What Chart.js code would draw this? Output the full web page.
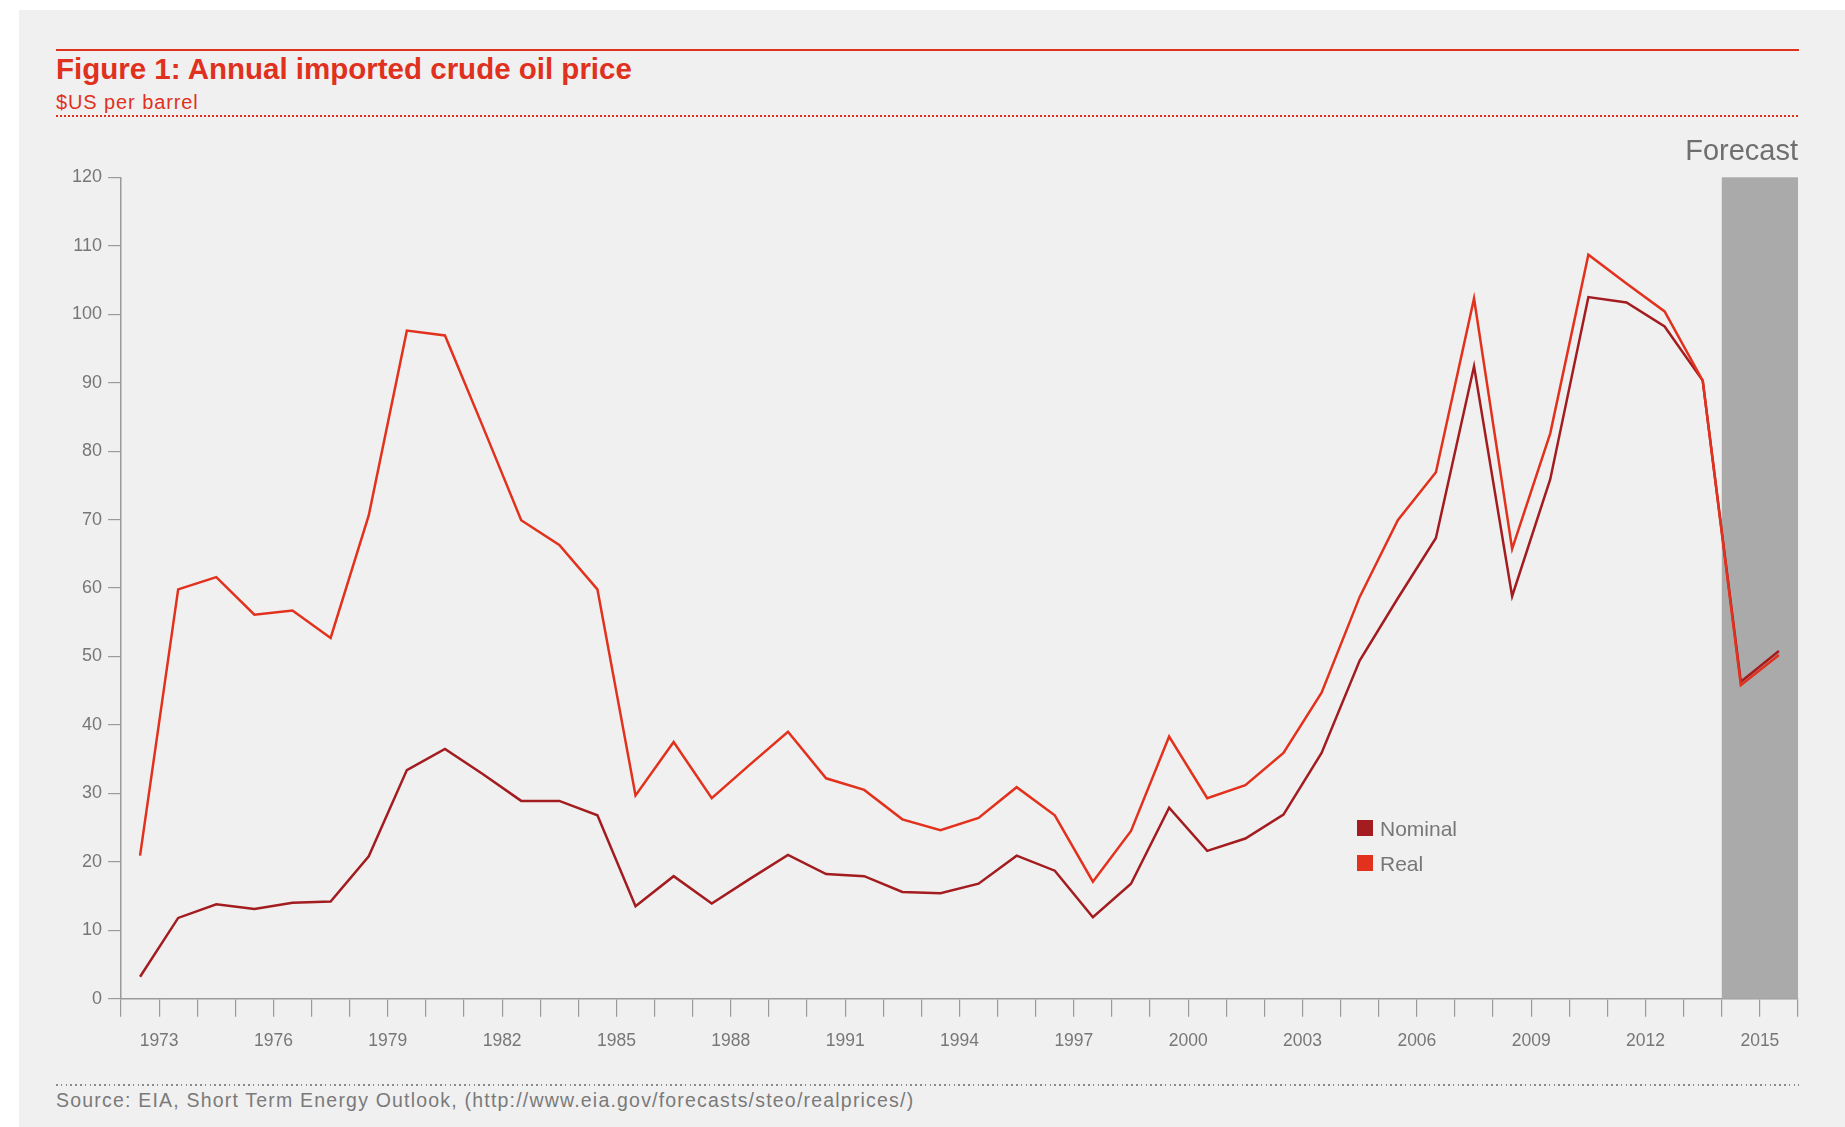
<!DOCTYPE html>
<html>
<head>
<meta charset="utf-8">
<title>Figure 1: Annual imported crude oil price</title>
<script src="https://cdn.jsdelivr.net/npm/chart.js@4.4.1/dist/chart.umd.min.js"></script>
<style>
  body { margin: 0; background: #fff; font-family: "Liberation Sans", Arial, sans-serif; }
  #panel { position: absolute; left: 19px; top: 10px; width: 1826px; height: 1117px; background: #f0f0f0; }
  .rule { position: absolute; left: 56px; width: 1743px; }
  #topRule { top: 49px; height: 2px; background: #e0301e; }
  #redDots { top: 115px; height: 2px; background: repeating-linear-gradient(to right, #e0301e 0 2px, transparent 2px 4px); }
  #greyDots { top: 1084px; height: 2px; background: repeating-linear-gradient(to right, #8a8a8a 0 1.6px, transparent 1.6px 4.8px); }
  .txt { position: absolute; left: 56px; line-height: 1; white-space: nowrap; }
  #title { top: 54px; font-size: 29.5px; font-weight: bold; color: #e0301e; }
  #subtitle { top: 92px; font-size: 20px; letter-spacing: 0.9px; color: #e0301e; }
  #source { top: 1091px; font-size: 19.5px; letter-spacing: 1.2px; color: #7a7a7a; }
  #chart { position: absolute; left: 0; top: 0; }
</style>
</head>
<body>
<div id="panel"></div>
<div id="topRule" class="rule"></div>
<div id="title" class="txt">Figure 1: Annual imported crude oil price</div>
<div id="subtitle" class="txt">$US per barrel</div>
<div id="redDots" class="rule"></div>
<div id="greyDots" class="rule"></div>
<div id="source" class="txt">Source: EIA, Short Term Energy Outlook, (http://www.eia.gov/forecasts/steo/realprices/)</div>
<canvas id="chart" width="1845" height="1127"></canvas>

<script>
// one value per year, 1973 - 2016
const years = [1973, 1974, 1975, 1976, 1977, 1978, 1979, 1980, 1981, 1982,
  1983, 1984, 1985, 1986, 1987, 1988, 1989, 1990, 1991, 1992,
  1993, 1994, 1995, 1996, 1997, 1998, 1999, 2000, 2001, 2002,
  2003, 2004, 2005, 2006, 2007, 2008, 2009, 2010, 2011, 2012,
  2013, 2014, 2015, 2016];

const nominal = [3.2, 11.8, 13.8, 13.1, 14.0, 14.2, 20.8, 33.4, 36.5, 32.8,
  28.9, 28.9, 26.8, 13.5, 17.9, 13.9, 17.5, 21.0, 18.2, 17.9,
  15.6, 15.4, 16.8, 20.9, 18.7, 11.9, 16.8, 27.9, 21.6, 23.4,
  26.9, 35.9, 49.4, 58.5, 67.3, 92.4, 58.8, 75.9, 102.5, 101.7,
  98.2, 90.3, 46.3, 50.8];

const real = [20.9, 59.8, 61.6, 56.1, 56.7, 52.7, 70.6, 97.6, 96.9, 83.5,
  69.9, 66.3, 59.8, 29.7, 37.5, 29.3, 34.2, 39.0, 32.2, 30.5,
  26.2, 24.6, 26.4, 30.9, 26.8, 17.1, 24.5, 38.3, 29.3, 31.2,
  35.9, 44.7, 58.7, 69.9, 76.9, 102.3, 65.7, 82.6, 108.7, 104.5,
  100.4, 90.3, 45.8, 50.2];

// years written under the axis (they sit on the tick after each year)
const tickYears = [1973, 1976, 1979, 1982, 1985, 1988, 1991, 1994, 1997, 2000, 2003, 2006, 2009, 2012, 2015];
const forecastYears = [2015, 2016];

const FONT = '"Liberation Sans", Arial, sans-serif';
const AXIS_GREY = '#9a9a9a';

// grey band + "Forecast" label, placed through the scales
const forecastBand = {
  id: 'forecastBand',
  beforeDatasetsDraw(chart) {
    const { ctx, chartArea, scales: { x, y } } = chart;
    const x0 = x.getPixelForValue(years.indexOf(forecastYears[0]));
    const x1 = x.getPixelForValue(years.indexOf(forecastYears[forecastYears.length - 1]) + 1);
    const yTop = y.getPixelForValue(y.max);
    const yBot = y.getPixelForValue(0);
    ctx.save();
    ctx.fillStyle = '#aaaaaa';
    ctx.fillRect(x0, yTop, x1 - x0, yBot - yTop);
    ctx.fillStyle = '#6f6f6f';
    ctx.font = '29px ' + FONT;
    ctx.textAlign = 'right';
    ctx.textBaseline = 'alphabetic';
    ctx.fillText('Forecast', x1, chartArea.top - 17);
    ctx.restore();
  }
};

// small legend sitting inside the plot
const boxLegend = {
  id: 'boxLegend',
  afterDraw(chart) {
    const { ctx } = chart;
    const left = 1357, top = 820, row = 35, box = 16;
    ctx.save();
    ctx.font = '21px ' + FONT;
    ctx.textBaseline = 'alphabetic';
    ctx.textAlign = 'left';
    chart.data.datasets.forEach((ds, i) => {
      const yy = top + i * row;
      ctx.fillStyle = ds.borderColor;
      ctx.fillRect(left, yy, box, box);
      ctx.fillStyle = '#777';
      ctx.fillText(ds.label, left + 23, yy + 15.7);
    });
    ctx.restore();
  }
};

const toPoints = arr => arr.map((v, i) => ({ x: i + 0.5, y: v }));

new Chart(document.getElementById('chart'), {
  type: 'line',
  data: {
    datasets: [
      {
        label: 'Nominal',
        data: toPoints(nominal),
        borderColor: '#a31c20',
        borderWidth: 2.5,
        pointRadius: 0,
        tension: 0,
        order: 1,
      },
      {
        label: 'Real',
        data: toPoints(real),
        borderColor: '#e2311d',
        borderWidth: 2.5,
        pointRadius: 0,
        tension: 0,
        order: 0,
      },
    ],
  },
  options: {
    responsive: false,
    devicePixelRatio: 1,
    animation: false,
    events: [],
    layout: { padding: { left: 0, right: 47, top: 177.3, bottom: 68.3 } },
    plugins: {
      legend: { display: false },
      tooltip: { enabled: false },
    },
    scales: {
      x: {
        type: 'linear',
        min: 0,
        max: years.length,
        afterFit(scale) { scale.height = 60; },
        border: { color: AXIS_GREY, width: 1.5 },
        grid: { drawOnChartArea: false, tickLength: 18, color: AXIS_GREY, lineWidth: 1.2 },
        ticks: {
          stepSize: 1,
          autoSkip: false,
          maxRotation: 0,
          padding: 14,
          color: '#777',
          font: { size: 17.5, family: FONT },
          callback(value) {
            const yr = years[Math.round(value) - 1];
            return tickYears.includes(yr) ? String(yr) : '';
          },
        },
      },
      y: {
        min: 0,
        max: 120,
        afterFit(scale) { scale.width = 121; },
        border: { color: AXIS_GREY, width: 1.5 },
        grid: { drawOnChartArea: false, tickLength: 13, color: AXIS_GREY, lineWidth: 1.2 },
        ticks: {
          stepSize: 10,
          padding: 6,
          color: '#777',
          font: { size: 18, family: FONT },
        },
      },
    },
  },
  plugins: [forecastBand, boxLegend],
});
</script>
</body>
</html>
